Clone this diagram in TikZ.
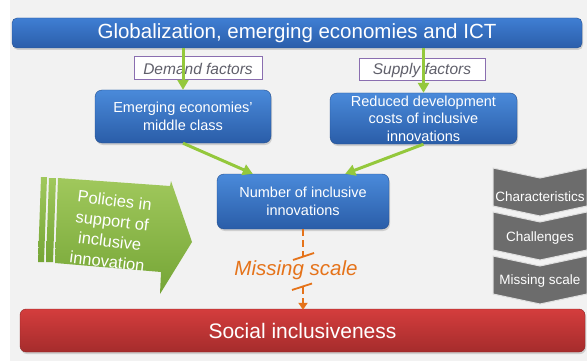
\documentclass[tikz,border=0pt]{standalone}
\usepackage{fontspec}
\setmainfont{Liberation Sans}
\usetikzlibrary{arrows.meta,shadows,calc}
\definecolor{bgc}{HTML}{F2F2F2}
\definecolor{bluetop}{HTML}{4A8ADA}
\definecolor{bluebot}{HTML}{2A5DA8}
\definecolor{bantop}{HTML}{3F7ED3}
\definecolor{banbot}{HTML}{2B5EAA}
\definecolor{lgreen}{HTML}{94C83C}
\definecolor{purp}{HTML}{8A6EB0}
\definecolor{ftext}{HTML}{5F5F6A}
\definecolor{orng}{HTML}{E5731A}
\definecolor{redtop}{HTML}{D43D3D}
\definecolor{redbot}{HTML}{A52C2C}
\definecolor{chev}{HTML}{6C6C6C}
\definecolor{poltop}{HTML}{A0C85C}
\definecolor{polbot}{HTML}{75A536}
\begin{document}
\begin{tikzpicture}[x=1pt,y=-1pt,
  shadowed/.style={drop shadow={opacity=0.3,shadow xshift=1pt,shadow yshift=-2pt}},
  bluebox/.style={shadowed,rounded corners=7pt,top color=bluetop,bottom color=bluebot,
    draw=bluebot!85!black,line width=0.4pt,text=white,align=center,inner sep=0pt,
    font=\fontsize{14.5}{17.5}\selectfont},
  factorbox/.style={draw=purp,line width=1pt,fill=white,inner sep=0pt,
    text=ftext,font=\fontsize{15.5}{18}\selectfont\itshape},
  greenarrow/.style={draw=lgreen,line width=3pt,-{Triangle[length=10pt,width=11pt]}},
  orangedash/.style={draw=orng,line width=2.5pt,dash pattern=on 7pt off 4pt},
  orangemark/.style={draw=orng,line width=1.8pt},
  chevshape/.style={fill=chev,draw=white!75!gray,line width=1pt},
  chevtext/.style={text=white,font=\fontsize{13.5}{16}\selectfont,inner sep=0pt}]
\useasboundingbox (0,0) rectangle (587,361);
\fill[white] (0,0) rectangle (587,361);
\fill[bgc] (10,0) rectangle (587,361);

% top banner
\node[shadowed,rounded corners=5pt,top color=bantop,bottom color=banbot,draw=banbot!85!black,
  line width=0.4pt,minimum width=570pt,minimum height=30pt,inner sep=0pt,text=white,
  font=\fontsize{20.5}{24}\selectfont] (banner) at (297,33) {Globalization, emerging economies and ICT};

% factor labels
\node[factorbox,minimum width=128pt,minimum height=23pt] (demand) at (198,68.5) {Demand factors};
\node[factorbox,minimum width=126pt,minimum height=22pt] (supply) at (422,70) {Supply factors};

% blue boxes
\node[bluebox,minimum width=176pt,minimum height=53pt] (emerging) at (183,116.5)
  {Emerging economies'\\middle class};
\node[bluebox,minimum width=187pt,minimum height=51pt] (reduced) at (423.5,118.5)
  {Reduced development\\costs of inclusive\\innovations};
\node[bluebox,minimum width=172pt,minimum height=55pt] (number) at (303,201.5)
  {Number of inclusive\\innovations};

% social inclusiveness
\node[shadowed,rounded corners=6pt,top color=redtop,bottom color=redbot,draw=redbot!85!black,
  line width=0.4pt,minimum width=565pt,minimum height=43pt,inner sep=0pt,text=white,
  font=\fontsize{21}{25}\selectfont] (social) at (302.5,330.5) {Social inclusiveness};

% green arrows
\draw[greenarrow] (banner.south -| emerging.north) -- (emerging.north);
\draw[greenarrow] (banner.south -| reduced.north) -- (reduced.north);
\draw[greenarrow] (emerging.south) -- ([xshift=36pt]number.north west);
\draw[greenarrow] (reduced.south) -- ([xshift=-44pt]number.north east);

% policies arrow
\shade[top color=poltop,bottom color=polbot]
  (41,177) -- (47,177) -- (44,262) -- (38,262) -- cycle;
\shade[top color=poltop,bottom color=polbot]
  (49,178) -- (56,178) -- (53,262) -- (46,262) -- cycle;
\shade[top color=poltop,bottom color=polbot]
  (58,178) -- (170,186) -- (171,181) -- (192,242) -- (160,294) -- (161,272) -- (55,263) -- cycle;
\node[rotate=-7,text=white,align=center,inner sep=0pt,
  font=\fontsize{16.5}{20.5}\selectfont] (policies) at (111,231)
  {Policies in\\support of\\inclusive\\innovation};

% missing scale connector
\coordinate (brkA) at (303,257);
\coordinate (brkB) at (303,287);
\coordinate (mA1) at (293,260);
\coordinate (mA2) at (314,253);
\coordinate (mB1) at (292,290);
\coordinate (mB2) at (312,283.5);
\node[text=orng,inner sep=0pt,font=\fontsize{20.5}{24}\selectfont\itshape] (missing) at (296,270) {Missing scale};
\draw[orangedash] (number.south) -- (brkA);
\draw[orangemark] (mA1) -- (mA2);
\draw[orangemark] (mB1) -- (mB2);
\draw[orangedash,-{Triangle[length=7pt,width=9pt]}] (brkB) -- ([yshift=-1pt]brkB |- social.north);

% chevrons
\foreach \yy in {168,212,256}{
  \draw[chevshape] (493,\yy) -- (540,\yy+10) -- (587,\yy) -- (587,\yy+38) -- (540,\yy+48) -- (493,\yy+38) -- cycle;
}
\node[chevtext] (chA) at (540,197) {Characteristics};
\node[chevtext] (chB) at (540,238.5) {Challenges};
\node[chevtext] (chC) at (540,281.5) {Missing scale};
\end{tikzpicture}
\end{document}
